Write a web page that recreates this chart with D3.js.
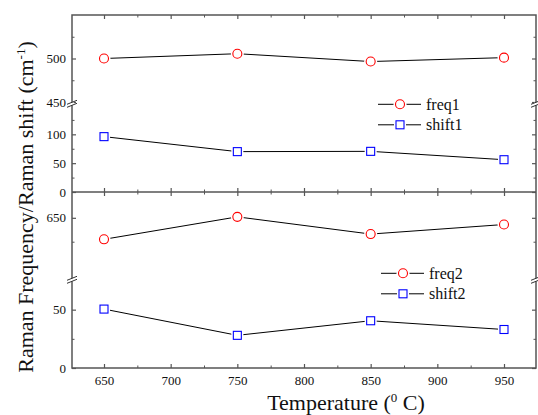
<!DOCTYPE html>
<html><head><meta charset="utf-8">
<script src="https://cdn.jsdelivr.net/npm/d3@7"></script>
<style>body{margin:0;background:#fff}svg{display:block}</style>
</head><body><svg id="c" width="538" height="415"></svg>
<script>
const temps = [650, 750, 850, 950];
const freq1 = [500, 505.5, 496.5, 501];
const shift1 = [96, 70, 70.5, 56];
const freq2 = [627.5, 651, 633, 643];
const shift2 = [50.5, 28, 40.5, 33];
const xTicks = [650, 700, 750, 800, 850, 900, 950];
const xMinor = [675, 725, 775, 825, 875, 925];

const FONT = "'Liberation Serif', 'Times New Roman', Tinos, 'Nimbus Roman', serif";
const svg = d3.select("#c");
const L = 72, R = 536, T = 15, MID = 192, B = 368;
const x = d3.scaleLinear().domain([626, 974]).range([L, R]);

const segs = [
  {y: d3.scaleLinear().domain([450, 550]).range([102, T]), major: [450, 500], minor: [475, 525]},
  {y: d3.scaleLinear().domain([0, 150]).range([MID, 105.5]), major: [0, 50, 100], minor: [25, 75, 125]},
  {y: d3.scaleLinear().domain([586, 677]).range([279, MID]), major: [650], minor: [625]},
  {y: d3.scaleLinear().domain([0, 75]).range([B, 280.5]), major: [0, 50], minor: [25]}
];
const axisCol = "#555";

const series = [
  {vals: freq1, seg: 0, type: "circle"},
  {vals: shift1, seg: 1, type: "square"},
  {vals: freq2, seg: 2, type: "circle"},
  {vals: shift2, seg: 3, type: "square"}
];
series.forEach(s => {
  const y = segs[s.seg].y;
  const pts = temps.map((t, i) => [x(t), y(s.vals[i])]);
  svg.append("path").attr("d", d3.line()(pts)).attr("fill", "none").attr("stroke", "#000").attr("stroke-width", 1);
  drawMarker(s.type, pts);
});
function drawMarker(type, pts) {
  pts.forEach(p => {
    if (type === "circle") {
      svg.append("circle").attr("cx", p[0]).attr("cy", p[1]).attr("r", 6.5).attr("fill", "#fff");
      svg.append("circle").attr("cx", p[0]).attr("cy", p[1]).attr("r", 4.5).attr("fill", "#fff").attr("stroke", "#ff0000").attr("stroke-width", 1.1);
    } else {
      svg.append("rect").attr("x", p[0] - 6).attr("y", p[1] - 6).attr("width", 12).attr("height", 12).attr("fill", "#fff");
      svg.append("rect").attr("x", p[0] - 4).attr("y", p[1] - 4).attr("width", 8).attr("height", 8).attr("fill", "#fff").attr("stroke", "#0000ff").attr("stroke-width", 1.1);
    }
  });
}

const g = svg.append("g");
g.append("rect").attr("x", L).attr("y", T).attr("width", R - L).attr("height", B - T).attr("fill", "none").attr("stroke", axisCol).attr("stroke-width", 1.5);
g.append("line").attr("x1", L).attr("x2", R).attr("y1", MID).attr("y2", MID).attr("stroke", axisCol).attr("stroke-width", 1.5);

segs.forEach(s => {
  const left = svg.append("g").attr("transform", `translate(${L},0)`)
    .call(d3.axisLeft(s.y).tickValues(s.major).tickSize(-4).tickPadding(6).tickFormat(d3.format("d")));
  left.select(".domain").remove();
  left.selectAll("line").attr("stroke", axisCol).attr("stroke-width", 1.2);
  left.selectAll("text").style("font-size", "13px").attr("fill", "#111");
  const lm = svg.append("g").attr("transform", `translate(${L},0)`)
    .call(d3.axisLeft(s.y).tickValues(s.minor).tickSize(-2.5).tickFormat(""));
  lm.select(".domain").remove(); lm.selectAll("line").attr("stroke", axisCol);
  const right = svg.append("g").attr("transform", `translate(${R},0)`)
    .call(d3.axisRight(s.y).tickValues(s.major).tickSize(-4).tickFormat(""));
  right.select(".domain").remove(); right.selectAll("line").attr("stroke", axisCol).attr("stroke-width", 1.2);
  const rm = svg.append("g").attr("transform", `translate(${R},0)`)
    .call(d3.axisRight(s.y).tickValues(s.minor).tickSize(-2.5).tickFormat(""));
  rm.select(".domain").remove(); rm.selectAll("line").attr("stroke", axisCol);
});

function xAxisAt(yPos, dir, labels) {
  const ax = (dir === "bottom" ? d3.axisBottom(x) : d3.axisTop(x));
  const gM = svg.append("g").attr("transform", `translate(0,${yPos})`)
    .call(ax.tickValues(xTicks).tickSize(-4).tickPadding(8).tickFormat(labels ? d3.format("d") : ""));
  gM.select(".domain").remove(); gM.selectAll("line").attr("stroke", axisCol).attr("stroke-width", 1.2);
  gM.selectAll("text").style("font-size", "13px").attr("fill", "#111");
  const ax2 = (dir === "bottom" ? d3.axisBottom(x) : d3.axisTop(x));
  const gm = svg.append("g").attr("transform", `translate(0,${yPos})`)
    .call(ax2.tickValues(xMinor).tickSize(-2.5).tickFormat(""));
  gm.select(".domain").remove(); gm.selectAll("line").attr("stroke", axisCol);
}
xAxisAt(B, "bottom", true);
xAxisAt(T, "top", false);
xAxisAt(MID, "bottom", false);
xAxisAt(MID, "top", false);

function brk(xp, yp) {
  const b = svg.append("g").attr("transform", `translate(${xp},${yp})`);
  b.append("rect").attr("x", -2).attr("y", -1.5).attr("width", 4).attr("height", 3).attr("fill", "#fff");
  [-1.5, 1.5].forEach(o => b.append("line").attr("x1", -5).attr("x2", 5).attr("y1", o + 2).attr("y2", o - 2)
    .attr("stroke", "#333").attr("stroke-width", 1));
}
brk(L, 103.8); brk(R, 103.8); brk(L, 279.8); brk(R, 279.8);

function legend(x0, y0, items) {
  items.forEach((it, i) => {
    const yy = y0 + i * 20.5;
    svg.append("line").attr("x1", x0).attr("x2", x0 + 43).attr("y1", yy).attr("y2", yy).attr("stroke", "#000").attr("stroke-width", 1);
    drawMarker(it.type, [[x0 + 22, yy]]);
    svg.append("text").attr("x", x0 + 48).attr("y", yy + 5.5).style("font-size", "16px").text(it.name);
  });
}
legend(378, 104.3, [{name: "freq1", type: "circle"}, {name: "shift1", type: "square"}]);
legend(381, 273.3, [{name: "freq2", type: "circle"}, {name: "shift2", type: "square"}]);

const xt = svg.append("text").attr("x", 346).attr("y", 410).attr("text-anchor", "middle").style("font-size", "22px");
xt.append("tspan").text("Temperature (");
xt.append("tspan").attr("dy", -8).style("font-size", "13px").text("0");
xt.append("tspan").attr("dy", 8).text(" C)");
const yt = svg.append("text").attr("transform", "translate(33,207) rotate(-90)").attr("text-anchor", "middle").style("font-size", "22px");
yt.append("tspan").text("Raman Frequency/Raman shift (cm");
yt.append("tspan").attr("dy", -8).style("font-size", "13px").text("-1");
yt.append("tspan").attr("dy", 8).text(")");

svg.selectAll("text").style("font-family", FONT).attr("fill", "#111");
svg.selectAll("g").attr("font-family", null);
</script></body></html>
